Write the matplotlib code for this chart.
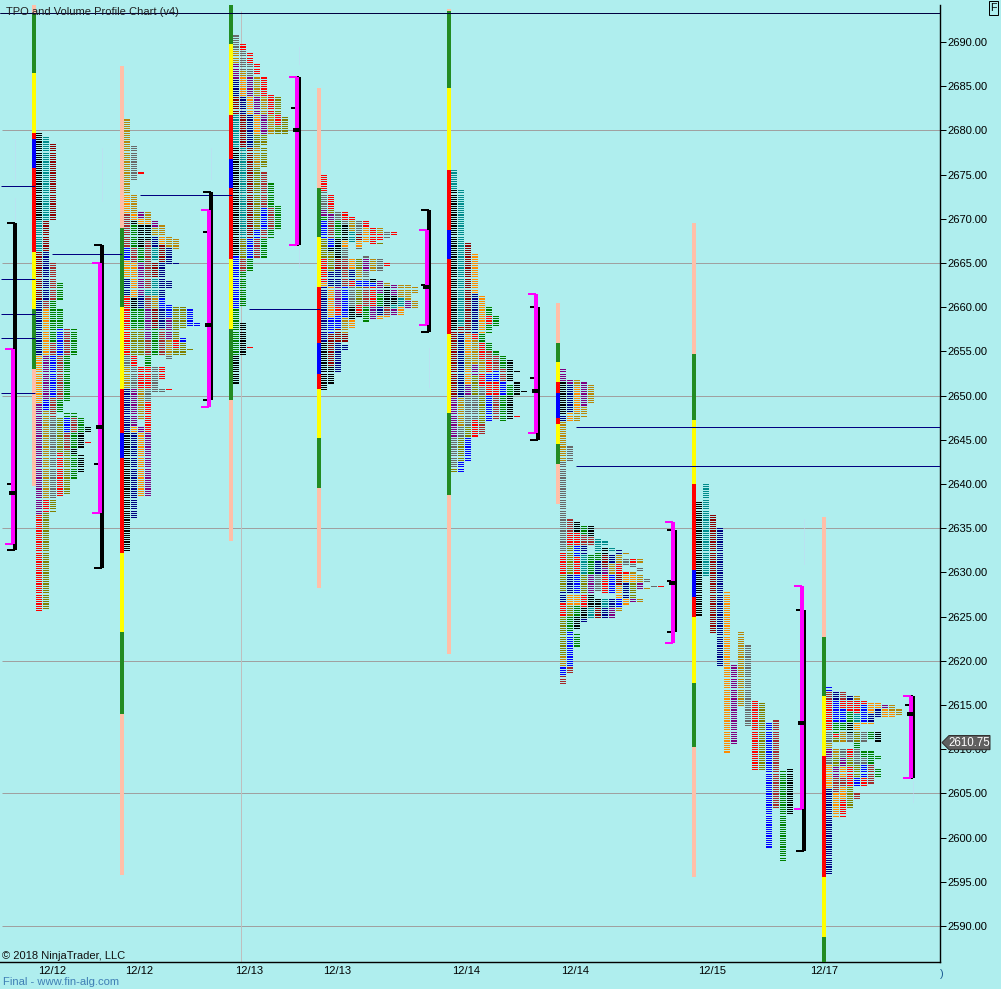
import matplotlib
matplotlib.use('Agg')
import numpy as np
import matplotlib.pyplot as plt

# TPO / volume profile, prices
plt.rcParams['font.family'] = ['Liberation Sans', 'DejaVu Sans']

price_ticks = np.arange(2590, 2695, 5)
grid_prices = [2680, 2665, 2650, 2635, 2620, 2605, 2590]
last_price = 2610.75

date_labels = ['12/12', '12/12', '12/13', '12/13', '12/14', '12/14', '12/15', '12/17']
date_x = [52, 139, 249, 337, 466, 575, 712, 824]
bar_x = [32, 120, 229, 317, 447, 556, 692, 822]

# tall bars: colour string and the price breaks between the colours
bars = [
    ('PFYRBRYFP', [2694.25, 2693.25, 2686.5, 2679.75, 2679, 2675.75, 2666.25, 2659.75, 2653, 2639.75]),
    ('PFYRBRYFP', [2687.25, 2669, 2660, 2650.75, 2645.75, 2643, 2632.25, 2623.25, 2614, 2595.75]),
    ('FYRBRYFP', [2694.25, 2689.75, 2681.75, 2676.75, 2673.5, 2665.5, 2657.5, 2649.5, 2633.5]),
    ('PFYRBRYFP', [2684.75, 2673.5, 2668, 2662.25, 2656, 2652.5, 2650.75, 2645.25, 2639.5, 2628.25]),
    ('PFYRBRYFP', [2693.75, 2693.5, 2684.75, 2675.5, 2668.75, 2665.5, 2657, 2648, 2638.75, 2620.75]),
    ('PFYRBRYFP', [2660.5, 2656, 2653.75, 2651.5, 2650.25, 2647.5, 2646.75, 2644.5, 2642.25, 2637.75]),
    ('PFYRBRYFP', [2669.5, 2654.75, 2647.25, 2640, 2630.25, 2627.25, 2625, 2617.5, 2610.25, 2595.5]),
    ('PFYRYF', [2636.25, 2622.75, 2616, 2609.25, 2595.5, 2588.75, 2585]),
]

# profile columns, one list per session. a space in the colours is a gap
cols_1 = [
    ('ktmnopr', [2679.75, 2669.75, 2666.25, 2660.75, 2654.5, 2649, 2636.5, 2625.5]),
    ('tmnfopbgrl', [2679.25, 2669.75, 2666.25, 2660.75, 2659.75, 2654.5, 2649.5, 2648.25, 2638.25, 2636.75, 2625.75]),
    ('m fGfbfdl', [2678.5, 2669.75, 2665, 2660.75, 2656, 2654.5, 2649.75, 2647.5, 2638.25, 2636.75]),
    ('G GbfG lr', [2662.75, 2660.75, 2659.75, 2657.5, 2654.5, 2649.5, 2648, 2647.5, 2643.5, 2638.5]),
    ('fG Gbfl', [2657.5, 2654.5, 2649.25, 2648, 2647.5, 2645.75, 2643.75, 2638.75]),
    ('G GfGkG', [2657.5, 2654.5, 2648, 2647.5, 2645.75, 2644, 2643.25, 2640.5]),
    ('Gk k', [2647.5, 2645.75, 2644, 2643.25, 2641.25]),
    ('k r', [2646.5, 2645.75, 2644.75, 2644.5]),
]
cols_2 = [
    ('gofbonrdgnk', [2681.25, 2672.75, 2670.5, 2666.75, 2665.25, 2663.25, 2661.25, 2654.5, 2653.25, 2650.75, 2645.75, 2632.25]),
    ('d gokGfokGlrdpon', [2678.25, 2674.25, 2672.75, 2670.5, 2669.75, 2669.25, 2666.75, 2665, 2661, 2659.75, 2657.5, 2654.5, 2653.25, 2650.75, 2646.5, 2645.75, 2636]),
    ('r pokGpnGl rg po', [2675.25, 2675, 2670.75, 2670, 2669.25, 2666.75, 2665, 2661.25, 2659.75, 2657.5, 2654.5, 2653.25, 2650.75, 2647.25, 2646.5, 2645.75, 2638.5]),
    ('gokftfpfGrdr p', [2670.75, 2669.75, 2669.25, 2667.5, 2662, 2661.25, 2659.75, 2656.25, 2654.5, 2653.25, 2650.75, 2649.25, 2645.75, 2645.75, 2638.5]),
    ('pgnt mtgmG d', [2669.75, 2669, 2668, 2666.75, 2665.25, 2665, 2663.25, 2661.25, 2659.75, 2657.5, 2654.5, 2653.25, 2650.25]),
    ('gomnbnf r d', [2669.25, 2668, 2667, 2665, 2661, 2659.75, 2657.5, 2654.5, 2653.25, 2651.75, 2650.75, 2650.25]),
    ('gn n bpgd r', [2668, 2666.75, 2664.75, 2663, 2662, 2660.25, 2658.75, 2656.25, 2654.5, 2654, 2650.75, 2650.5]),
    ('g n lrl', [2667.75, 2666.5, 2665, 2664.75, 2660, 2656.25, 2655.25, 2654.5]),
    ('l bl', [2660, 2657.5, 2656.5, 2656, 2654.5]),
    ('b l', [2659.75, 2657.75, 2655.25, 2655]),
    ('b', [2658.25, 2657.75]),
]
cols_3 = [
    ('dgpnmtkbGk', [2690.75, 2689, 2687.5, 2685.75, 2683.75, 2681.75, 2678, 2665.75, 2659.75, 2654.5, 2651.25]),
    ('rdgonmtlfG k', [2689.75, 2689, 2686.75, 2686, 2683.75, 2681.75, 2678, 2667.75, 2665.5, 2664, 2660, 2658.25, 2654.5]),
    ('rdponmbG r', [2688.75, 2687.5, 2686, 2683.75, 2681.75, 2678, 2667.75, 2665.5, 2664, 2655.5, 2655.25]),
    ('r gpolglbf', [2687.5, 2686.25, 2686, 2683.75, 2681.75, 2679.5, 2678, 2675.75, 2668.75, 2667.75, 2665.5]),
    ('rgpl l fbfG', [2686, 2683.75, 2681.75, 2679.5, 2678.25, 2678, 2675.75, 2675.25, 2671.25, 2668.75, 2667.75, 2665.5]),
    ('rg GfG', [2684, 2681.75, 2679.5, 2674, 2671.25, 2668.75, 2667.75]),
    ('lrl G', [2683.75, 2681.75, 2680.5, 2679.5, 2671.5, 2668.75]),
    ('l', [2681.5, 2679.5]),
]
cols_4 = [
    ('rdpGblronk', [2675, 2673, 2671, 2670.25, 2669.75, 2667.75, 2665.5, 2662.75, 2662.25, 2656, 2650.5]),
    ('rlpfbklnobmk', [2672.75, 2671, 2670.5, 2669.75, 2667.75, 2666.75, 2666.25, 2664, 2662.25, 2658.75, 2657, 2653.25, 2651.25]),
    ('dGkmnprbmn', [2670.75, 2669.75, 2667.75, 2665.5, 2664.25, 2662.25, 2660, 2659, 2657.5, 2656, 2652.5]),
    ('rdkodfbgm n', [2670.75, 2669.75, 2669.25, 2667.5, 2666.75, 2665.5, 2662.25, 2658.75, 2657, 2656, 2655.75, 2655]),
    ('rgt onrdko', [2670.25, 2669.75, 2668.5, 2667.25, 2665.5, 2664.25, 2663, 2662.25, 2660, 2658.5, 2657.5]),
    ('dmod lgblrk', [2669.75, 2668.25, 2667.5, 2666.75, 2666.5, 2665.5, 2664.25, 2663, 2662.25, 2660.25, 2659.25, 2658.75]),
    ('ro dpdbfGb', [2669.75, 2669, 2667.25, 2665.75, 2665.5, 2664, 2663, 2662.25, 2660, 2658.25]),
    ('r g kbrp', [2669, 2667, 2665.5, 2664, 2663.25, 2662.75, 2662.25, 2660, 2658.5]),
    ('gr l d pGno', [2669, 2668.25, 2667.5, 2667.25, 2667, 2665.5, 2664, 2663, 2661.5, 2660, 2659, 2658.5]),
    ('d r gkfo', [2668.5, 2667.75, 2665, 2664.5, 2662.75, 2662.25, 2660, 2659, 2658.75]),
    ('r pktp', [2668.5, 2668, 2662.5, 2661.25, 2660.25, 2659.75, 2659]),
    ('gto', [2662.5, 2661, 2660, 2659]),
    ('gp', [2662.5, 2660.75, 2659.75]),
    ('g g', [2662.25, 2661.5, 2660.75, 2659.75]),
]
cols_5 = [
    ('tkmpdl', [2675.5, 2673.25, 2657.25, 2649.75, 2645.25, 2641.75, 2641.25]),
    ('tmngdlb', [2673.25, 2657.75, 2657, 2649.75, 2646.5, 2645.25, 2642.5, 2641.25]),
    ('mogopdlb', [2667.25, 2657, 2654.5, 2653, 2651.25, 2650, 2646.5, 2645.25, 2642.5]),
    ('onrgpldr', [2666, 2661.5, 2657, 2656.25, 2653.5, 2652.25, 2650, 2647.25, 2645.25]),
    ('oGrgrdlf', [2661.25, 2657, 2656, 2654, 2652.5, 2651, 2650, 2646.75, 2645.5]),
    ('GrG Gfrbrb', [2660, 2659, 2658, 2657, 2656, 2655, 2654, 2652.5, 2651.5, 2650, 2647]),
    ('G Gfbrf', [2659, 2657.75, 2655, 2654.5, 2652.75, 2651.5, 2650, 2647.25]),
    ('GfbG', [2654.5, 2653, 2651.5, 2650, 2647]),
    ('k Gk', [2654, 2651.5, 2651.25, 2650, 2647.25]),
    ('k k r', [2652.75, 2652.5, 2651.5, 2650, 2647.75, 2647.5]),
    ('k', [2650.5, 2650.25]),
]
cols_6 = [
    ('pkngdrlnrlgbf', [2653, 2651.5, 2647.75, 2647, 2642.5, 2632.25, 2629.75, 2627.75, 2626.5, 2625, 2620.5, 2619.25, 2618.25, 2617.25]),
    ('pno d frlnolGbf', [2651.75, 2651.25, 2648, 2647, 2644.25, 2642.5, 2636, 2634.5, 2633, 2629.75, 2627.5, 2626.25, 2625, 2623.25, 2619.25, 2618.5]),
    ('gog krbrboGk G', [2651.75, 2651, 2648, 2647, 2635.75, 2634.5, 2633, 2631.75, 2629.75, 2627.5, 2626.25, 2625, 2623.5, 2623, 2621.5]),
    ('pg Gfntlrkn', [2651.5, 2648.75, 2647.5, 2635.25, 2634.25, 2633, 2632, 2629.75, 2627.5, 2626, 2624.75, 2624.25]),
    ('g kf Gpkt', [2651.25, 2649, 2635.25, 2634, 2633, 2632, 2629.75, 2627.5, 2626, 2624.75]),
    ('tGnd km', [2633.75, 2632.25, 2631.25, 2629.75, 2627.75, 2627, 2626, 2624.75]),
    ('t kmpr tn', [2633.5, 2633, 2632.75, 2632, 2630.5, 2629.75, 2627.5, 2627, 2626, 2624.75]),
    ('t ngb np', [2632.75, 2632.25, 2632, 2631, 2629.75, 2627.5, 2627, 2626, 2624.75]),
    ('ngrmobg', [2632.5, 2632, 2631, 2629.75, 2628.5, 2627, 2626, 2625.5]),
    ('g d rono', [2632.25, 2632, 2631.5, 2630.75, 2630, 2629.75, 2628.75, 2627, 2626.25]),
    ('rd golp', [2631.5, 2631, 2630.5, 2630, 2629.75, 2628.75, 2627, 2626.5]),
    ('g d gp g', [2631.5, 2631, 2630.5, 2630, 2629.75, 2628.75, 2628, 2627, 2626.5]),
    ('d g', [2629.25, 2628.75, 2628.25, 2628]),
    ('d', [2628.5, 2628.25]),
    ('r', [2628.5, 2628.25]),
]
cols_7 = [
    ('k', [2638, 2625]),
    ('t', [2640, 2629.5]),
    ('m', [2636.5, 2623]),
    ('n', [2635, 2619.25]),
    ('o', [2627.75, 2609.5]),
    ('p', [2619.5, 2610.5]),
    ('g', [2623.25, 2614.75]),
    ('d', [2621.75, 2612.5]),
    ('r', [2615.5, 2607.5]),
    ('l', [2615.25, 2607.5]),
    ('b', [2613, 2598.75]),
    ('f', [2613.25, 2603.25]),
    ('G', [2607.5, 2597.25]),
    ('k', [2607.75, 2602.5]),
]
cols_8 = [
    ('bfrdgpdon', [2617, 2616.5, 2615.5, 2612, 2610.75, 2610, 2609, 2608.25, 2605.5, 2595.75]),
    ('nbGrl glpfo', [2616.5, 2615.5, 2613, 2611.75, 2611.25, 2610.75, 2610, 2609, 2608, 2606.75, 2605, 2602.25]),
    ('frbGg dpofor', [2616.5, 2615.5, 2614.5, 2613, 2612, 2610.75, 2610, 2609, 2608, 2606.75, 2605.75, 2604.25, 2602.25]),
    ('nrGkd rlrl', [2616, 2615.5, 2614.25, 2613, 2611.75, 2610.75, 2610, 2609, 2608, 2605.75, 2603.25]),
    ('grtolGdlb f', [2616, 2615.5, 2614, 2613, 2612, 2610.75, 2610, 2608.25, 2606.75, 2605.75, 2605, 2604.25]),
    ('rbo d Gdbr', [2615.5, 2615, 2613, 2612.75, 2612, 2610.75, 2609.75, 2609, 2608.25, 2606.75, 2605.75]),
    ('ono G Gf', [2615.25, 2614, 2613, 2612.75, 2612, 2611, 2609.75, 2608.25, 2606]),
    ('on k G G', [2615.25, 2614.5, 2613.5, 2612, 2610.75, 2609.25, 2608.75, 2607.75, 2606.75]),
    ('po', [2615, 2614.5, 2613.5]),
    ('go', [2615, 2614.25, 2613.5]),
    ('g', [2614.5, 2613.75]),
]
all_cols = [cols_1, cols_2, cols_3, cols_4, cols_5, cols_6, cols_7, cols_8]

# range (black) and value area (magenta) brackets for each session
bracket_x = [13, 100, 209, 297, 427, 536, 673, 802, 911]
range_hi = [2669.5, 2667, 2673, 2686, 2671, 2660, 2634.75, 2625.75, 2616]
range_lo = [2632.5, 2630.5, 2649.5, 2667, 2657.25, 2645, 2623.25, 2598.5, 2606.75]
va_hi = [2655.25, 2665, 2671, 2686, 2668.75, 2661.5, 2635.75, 2628.5, 2616]
va_lo = [2633.25, 2636.75, 2648.75, 2667, 2658, 2645.75, 2622, 2603.25, 2606.75]
poc = [2639, 2646.5, 2658, 2680, 2662.25, 2650.5, 2628.75, 2613, 2614]
open_tick = [2640, 2642.25, 2668.5, 2682.5, 2662.5, 2652, 2629, 2625.75, 2615]

# naked levels left from older sessions
level_price = [2693.25, 2673.75, 2663.25, 2659.25, 2656.5, 2650.25, 2666, 2672.75, 2659.75, 2646.5, 2642]
level_x0 = [0, 1, 1, 1, 1, 1, 52, 140, 249, 576, 576]
level_x1 = [940, 35, 35, 35, 35, 35, 122, 232, 320, 940, 940]

# faint dotted wicks
wick_x = [15, 15, 102, 211, 299, 299, 429, 804, 913]
wick_hi = [2679, 2672.5, 2678, 2678, 2689.5, 2668.5, 2655.5, 2636, 2606.5]
wick_lo = [2674.5, 2670, 2672, 2674.5, 2687.5, 2664.5, 2651, 2631, 2604]

tpo_colors = {'k': '#000000', 't': '#008B8B', 'm': '#8B0000', 'n': '#000080', 'o': '#FF8C00',
              'g': '#B8860B', 'd': '#696969', 'p': '#800080', 'l': '#808000', 'r': '#FF0000',
              'b': '#0000FF', 'f': '#A52A2A', 'G': '#008000'}
bar_colors = {'P': '#FFBFA8', 'F': '#228B22', 'Y': '#FFFF00', 'R': '#FF0000', 'B': '#0000FF'}
BG = '#AFEEEE'
PX = 72 / 100  # one pixel in points
ROW_H = 0.13   # stripe height in price units, a tick is 0.25

fig = plt.figure(figsize=(10.01, 9.89), dpi=100, facecolor=BG)
ax = fig.add_axes([0, 27 / 989, 940 / 1001, 957 / 989], facecolor=BG)
ax.set_xlim(0, 940)
ax.set_ylim(2585.93, 2694.19)

for p in grid_prices:
    ax.hlines(p, 2, 940, color='#A0A0A0', lw=PX, zorder=1)
ax.vlines(241, 2585.93, 2693.5, color='#BEBEBE', lw=PX, zorder=1)
ax.vlines(wick_x, wick_lo, wick_hi, color='#C4D8F4', lw=PX, linestyles=(0, (1, 1)), zorder=1)

# tall bars
for x, (cc, br) in zip(bar_x, bars):
    for c, hi, lo in zip(cc, br[:-1], br[1:]):
        ax.bar(x, hi - lo, bottom=lo, width=4, align='edge', color=bar_colors[c], lw=0, zorder=3, antialiased=False)

# profile columns start right after the bar, 7 px each
for x, cols in zip(bar_x, all_cols):
    for i, (cc, br) in enumerate(cols):
        x0 = x + 4 + i * 7
        for c, hi, lo in zip(cc, br[:-1], br[1:]):
            if c == ' ':
                continue
            rows = np.arange(hi, lo, -0.25)
            ax.bar(np.full(len(rows), x0), ROW_H, bottom=rows - ROW_H, width=6, align='edge',
                   color=tpo_colors[c], lw=0, zorder=3, antialiased=False)

ax.hlines(level_price, level_x0, level_x1, color='#000080', lw=PX, zorder=4)
ax.hlines(level_price[0], 0, 940, color='#000040', lw=PX, zorder=4)

for i, x in enumerate(bracket_x):
    # magenta sits just left of the black one
    ax.vlines(x + 2, range_lo[i], range_hi[i], color='k', lw=4 * PX, zorder=5)
    ax.hlines([range_hi[i], range_lo[i]], x - 6, x + 2, color='k', lw=2 * PX, zorder=5)
    ax.vlines(x, va_lo[i], va_hi[i], color='#FF00FF', lw=4 * PX, zorder=6)
    ax.hlines([va_hi[i], va_lo[i]], x - 8, x, color='#FF00FF', lw=2 * PX, zorder=6)
    ax.hlines(poc[i], x - 4, x + 2, color='k', lw=4 * PX, zorder=7)
    ax.hlines(open_tick[i], x - 6, x - 2, color='k', lw=2 * PX, zorder=7)

# right price scale and bottom dates
for s in ['left', 'top']:
    ax.spines[s].set_visible(False)
for s in ['right', 'bottom']:
    ax.spines[s].set_linewidth(1.4 * PX)
ax.yaxis.tick_right()
ax.set_yticks(price_ticks)
ax.set_yticklabels(['%.2f' % p for p in price_ticks], fontsize=8)
ax.tick_params(axis='y', length=6 * PX, width=PX, pad=1)
ax.set_xticks(date_x)
ax.set_xticklabels(date_labels, fontsize=8)
ax.tick_params(axis='x', length=0, pad=3)

# last price flag
fy = [last_price, last_price + 0.8, last_price + 0.8, last_price - 0.8, last_price - 0.8]
ax.fill([942, 949, 990, 990, 949], fy, color='#606060', ec='#303030', lw=PX, clip_on=False, zorder=8)
ax.text(969, last_price, '2610.75', color='white', fontsize=8.3, ha='center', va='center', clip_on=False, zorder=9)

fig.text(6 / 1001, 1 - 12 / 989, 'TPO and Volume Profile Chart (v4)', fontsize=8, color='#202020', va='center', zorder=10)
fig.text(2 / 1001, 1 - 956 / 989, '\u00a9 2018 NinjaTrader, LLC', fontsize=8, color='#101010', va='center', zorder=10)
fig.text(3 / 1001, 1 - 982 / 989, 'Final - www.fin-alg.com', fontsize=8.1, color='#3F7FB5', va='center')
fig.text(940 / 1001, 1 - 974 / 989, ')', fontsize=8, color='#1F5F95', va='center')
fig.text(993.5 / 1001, 1 - 8 / 989, 'F', fontsize=7.7, ha='center', va='center',
         bbox=dict(boxstyle='square,pad=0.15', fc=BG, ec='k', lw=PX))

fig.savefig('out.png', dpi=100, facecolor=BG)
